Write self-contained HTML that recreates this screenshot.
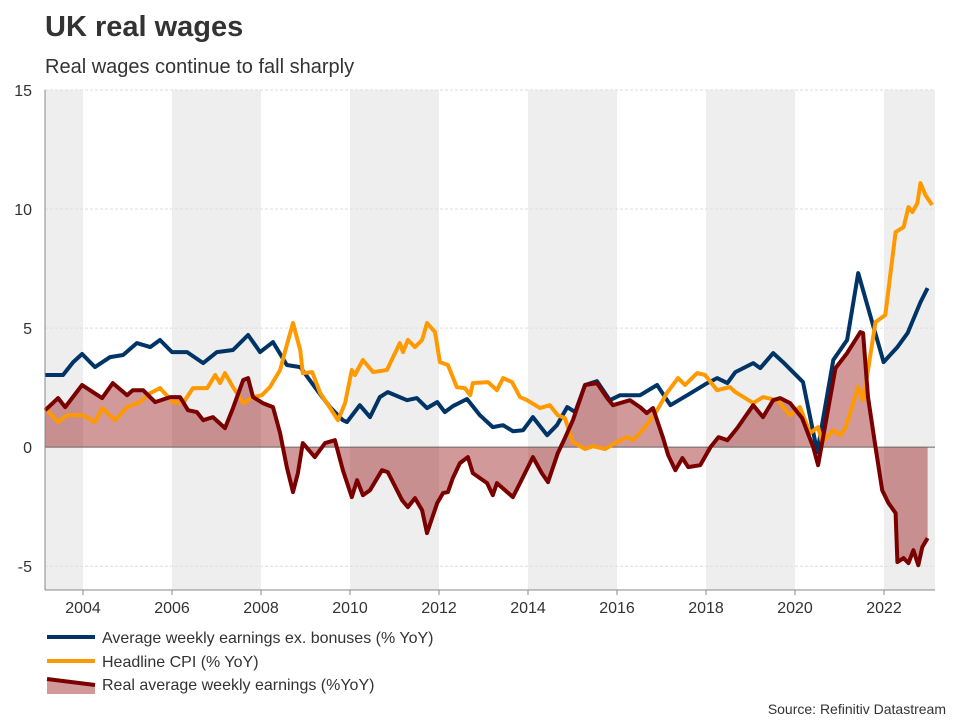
<!DOCTYPE html>
<html><head><meta charset="utf-8">
<style>
body{margin:0;background:#fff;font-family:"Liberation Sans",sans-serif;}
#wrap{position:relative;width:960px;height:720px;overflow:hidden;}
</style></head>
<body>
<div id="wrap">
<svg id="chart" width="960" height="720" xmlns="http://www.w3.org/2000/svg">
<text x="45" y="36" font-size="29" font-weight="bold" fill="#333" font-family="Liberation Sans, sans-serif">UK real wages</text>
<text x="45" y="73" font-size="20" fill="#333" font-family="Liberation Sans, sans-serif">Real wages continue to fall sharply</text>
<g id="bands"></g>
<g id="grid"></g>
<g id="series"></g>
<g id="axes"></g>
<g id="legend">
 <line x1="47" y1="637" x2="95" y2="637" stroke="#003366" stroke-width="4"/>
 <text x="102" y="643" font-size="16" fill="#333">Average weekly earnings ex. bonuses (% YoY)</text>
 <line x1="47" y1="661" x2="95" y2="661" stroke="#ff9900" stroke-width="4"/>
 <text x="102" y="667" font-size="16" fill="#333">Headline CPI (% YoY)</text>
 <polygon points="47,680 95,684 95,694 47,694" fill="rgba(139,0,0,0.4)"/>
 <line x1="47" y1="679" x2="95" y2="685" stroke="#7a0000" stroke-width="4"/>
 <text x="102" y="690" font-size="16" fill="#333">Real average weekly earnings (%YoY)</text>
</g>
<text x="946" y="714" font-size="14" fill="#333" text-anchor="end">Source: Refinitiv Datastream</text>
</svg>
</div>
<script>
const yTicks = [15, 10, 5, 0, -5];
const xTicks = [2004, 2006, 2008, 2010, 2012, 2014, 2016, 2018, 2020, 2022];
const bandStarts = [2002, 2006, 2010, 2014, 2018, 2022];

const aweDates = [2003.15,2003.55,2003.78,2003.98,2004.27,2004.61,2004.90,2005.21,2005.51,2005.73,2006.00,2006.34,2006.70,2007.01,2007.37,2007.71,2007.98,2008.27,2008.58,2008.88,2009.26,2009.55,2009.84,2009.93,2010.22,2010.45,2010.67,2010.85,2011.28,2011.50,2011.73,2011.96,2012.13,2012.31,2012.63,2012.92,2013.21,2013.44,2013.66,2013.89,2014.11,2014.43,2014.65,2014.88,2015.06,2015.28,2015.55,2015.84,2016.07,2016.52,2016.90,2017.20,2017.58,2018.03,2018.25,2018.48,2018.66,2019.06,2019.22,2019.51,2019.73,2020.18,2020.50,2020.86,2021.17,2021.42,2021.70,2021.99,2022.30,2022.53,2022.82,2022.98];
const aweValues = [3.03,3.03,3.57,3.91,3.36,3.78,3.87,4.37,4.20,4.50,3.99,3.99,3.53,3.99,4.08,4.71,3.99,4.41,3.45,3.36,2.39,1.68,1.13,1.05,1.76,1.26,2.10,2.31,1.97,2.06,1.64,1.89,1.47,1.72,2.02,1.34,0.84,0.92,0.67,0.71,1.26,0.50,0.92,1.68,1.47,2.61,2.77,1.97,2.18,2.18,2.61,1.76,2.18,2.69,2.90,2.69,3.15,3.53,3.32,3.95,3.57,2.73,-0.21,3.66,4.50,7.31,5.46,3.57,4.20,4.79,6.09,6.68];

const cpiDates = [2003.15,2003.44,2003.64,2004.00,2004.27,2004.43,2004.72,2004.99,2005.28,2005.51,2005.73,2006.02,2006.25,2006.47,2006.79,2006.97,2007.08,2007.19,2007.37,2007.60,2007.82,2008.02,2008.20,2008.43,2008.58,2008.72,2008.88,2008.94,2009.15,2009.33,2009.48,2009.73,2009.89,2010.04,2010.11,2010.29,2010.52,2010.83,2011.12,2011.19,2011.30,2011.46,2011.62,2011.73,2011.91,2012.02,2012.20,2012.40,2012.58,2012.70,2012.76,2013.10,2013.30,2013.44,2013.64,2013.82,2013.98,2014.27,2014.49,2014.67,2014.83,2015.01,2015.28,2015.46,2015.73,2016.00,2016.22,2016.36,2016.67,2016.90,2017.12,2017.37,2017.53,2017.80,2017.98,2018.25,2018.54,2018.66,2019.06,2019.28,2019.60,2019.89,2020.11,2020.34,2020.52,2020.61,2020.86,2021.02,2021.13,2021.42,2021.53,2021.64,2021.81,2022.03,2022.26,2022.44,2022.55,2022.64,2022.75,2022.82,2022.93,2023.08];
const cpiValues = [1.64,1.05,1.34,1.34,1.05,1.64,1.13,1.68,1.89,2.27,2.48,1.89,1.85,2.48,2.48,3.03,2.69,3.11,2.52,1.85,2.10,2.18,2.52,3.24,4.29,5.21,4.08,3.11,3.15,2.27,1.85,1.13,1.85,3.24,3.03,3.66,3.15,3.24,4.37,3.99,4.50,4.20,4.50,5.21,4.83,3.57,3.45,2.52,2.48,2.18,2.69,2.73,2.39,2.90,2.73,2.10,1.97,1.64,1.76,1.34,1.22,0.21,-0.08,0.04,-0.08,0.21,0.42,0.29,0.92,1.55,2.27,2.90,2.61,3.11,3.03,2.39,2.52,2.31,1.85,2.10,1.97,1.34,1.68,0.59,0.84,0.21,0.71,0.50,0.80,2.52,1.97,3.24,5.25,5.55,9.03,9.24,10.08,9.87,10.25,11.09,10.59,10.17];

const realDates = [2003.15,2003.44,2003.60,2003.98,2004.22,2004.43,2004.67,2004.99,2005.12,2005.35,2005.62,2005.96,2006.18,2006.36,2006.56,2006.70,2006.92,2007.19,2007.37,2007.60,2007.71,2007.82,2008.04,2008.27,2008.43,2008.58,2008.72,2008.83,2008.94,2009.21,2009.44,2009.66,2009.84,2010.04,2010.16,2010.29,2010.45,2010.72,2010.85,2011.17,2011.30,2011.46,2011.62,2011.73,2011.96,2012.09,2012.20,2012.31,2012.47,2012.65,2012.76,2013.08,2013.21,2013.30,2013.66,2013.82,2014.11,2014.31,2014.45,2014.67,2014.83,2015.01,2015.28,2015.55,2015.78,2015.91,2016.29,2016.52,2016.67,2016.81,2017.03,2017.15,2017.31,2017.47,2017.60,2017.87,2018.10,2018.28,2018.48,2018.70,2019.06,2019.28,2019.51,2019.67,2019.89,2020.16,2020.41,2020.52,2020.91,2021.17,2021.47,2021.53,2021.64,2021.81,2021.96,2022.10,2022.26,2022.30,2022.44,2022.55,2022.66,2022.77,2022.86,2022.98];
const realValues = [1.55,2.06,1.68,2.61,2.31,2.06,2.69,2.18,2.39,2.39,1.89,2.10,2.10,1.55,1.47,1.13,1.26,0.80,1.64,2.82,2.90,2.10,1.85,1.68,0.59,-0.84,-1.89,-1.09,0.17,-0.42,0.17,0.29,-0.97,-2.10,-1.39,-2.02,-1.81,-0.97,-1.05,-2.23,-2.52,-2.14,-2.65,-3.61,-2.35,-1.93,-1.89,-1.30,-0.67,-0.42,-1.09,-1.51,-2.02,-1.51,-2.10,-1.51,-0.42,-1.09,-1.47,-0.25,0.38,1.13,2.61,2.69,2.06,1.76,1.97,1.68,1.43,1.64,0.42,-0.34,-0.97,-0.46,-0.84,-0.76,0.00,0.42,0.29,0.80,1.76,1.26,1.97,2.06,1.85,1.22,0.00,-0.76,3.32,3.95,4.83,4.79,2.10,0.00,-1.81,-2.35,-2.77,-4.83,-4.66,-4.87,-4.33,-4.96,-4.20,-3.82];

const X0 = 45, X1 = 935, Y0 = 90, Y1 = 590;
const xMin = 2003.146, xMax = 2023.146, yMin = -6, yMax = 15;
function xs(v){ return X0 + (v - xMin) / (xMax - xMin) * (X1 - X0); }
function ys(v){ return Y1 - (v - yMin) / (yMax - yMin) * (Y1 - Y0); }
const NS = "http://www.w3.org/2000/svg";
function mk(tag, attrs, parent){
  const e = document.createElementNS(NS, tag);
  for (const k in attrs) e.setAttribute(k, attrs[k]);
  parent.appendChild(e);
  return e;
}
const bands = document.getElementById('bands');
bandStarts.forEach(b => {
  const a = Math.max(xs(b), X0), c = Math.min(xs(b + 2), X1);
  const r = mk('rect', {x:a, y:Y0, width:c - a, height:Y1 - Y0, fill:'#eeeeee'}, bands);
  
  
});
const grid = document.getElementById('grid');
yTicks.forEach(t => {
  if (t !== 0) {
    const l = mk('line', {x1:X0, x2:X1, y1:ys(t), y2:ys(t), stroke:'#dddddd', 'stroke-dasharray':'3,2', 'stroke-width':1}, grid);
    
    
  }
  const tx = mk('text', {x:32, y:ys(t) + 6, 'text-anchor':'end', 'font-size':16, fill:'#333'}, grid);
  tx.textContent = t;
  
  
});
const series = document.getElementById('series');
let d = 'M' + xs(realDates[0]) + ',' + ys(0);
realDates.forEach((t, i) => { d += ' L' + xs(t) + ',' + ys(realValues[i]); });
d += ' L' + xs(realDates[realDates.length - 1]) + ',' + ys(0) + ' Z';
const area = mk('path', {d:d, fill:'rgba(139,0,0,0.4)'}, series);


const zl = mk('line', {x1:X0, x2:X1, y1:ys(0), y2:ys(0), stroke:'#666', 'stroke-width':1}, series);


function line(dates, vals, color, name){
  const pts = dates.map((t, i) => xs(t).toFixed(1) + ',' + ys(vals[i]).toFixed(1)).join(' ');
  const p = mk('polyline', {points:pts, fill:'none', stroke:color, 'stroke-width':4, 'stroke-linejoin':'round'}, series);
  
  
}
line(aweDates, aweValues, '#003366', 'awe-line');
line(cpiDates, cpiValues, '#ff9900', 'cpi-line');
line(realDates, realValues, '#7a0000', 'real-earnings-line');
const axes = document.getElementById('axes');
const ya = mk('line', {x1:X0, x2:X0, y1:Y0, y2:Y1, stroke:'#888', 'stroke-width':1}, axes);


const xa = mk('line', {x1:X0, x2:X1, y1:Y1, y2:Y1, stroke:'#888', 'stroke-width':1}, axes);


xTicks.forEach(t => {
  const tk = mk('line', {x1:xs(t), x2:xs(t), y1:Y1, y2:Y1 + 5, stroke:'#888'}, axes);
  
  
  const tx = mk('text', {x:xs(t), y:Y1 + 23, 'text-anchor':'middle', 'font-size':16, fill:'#333'}, axes);
  tx.textContent = t;
  
  
});
</script>
</body></html>
